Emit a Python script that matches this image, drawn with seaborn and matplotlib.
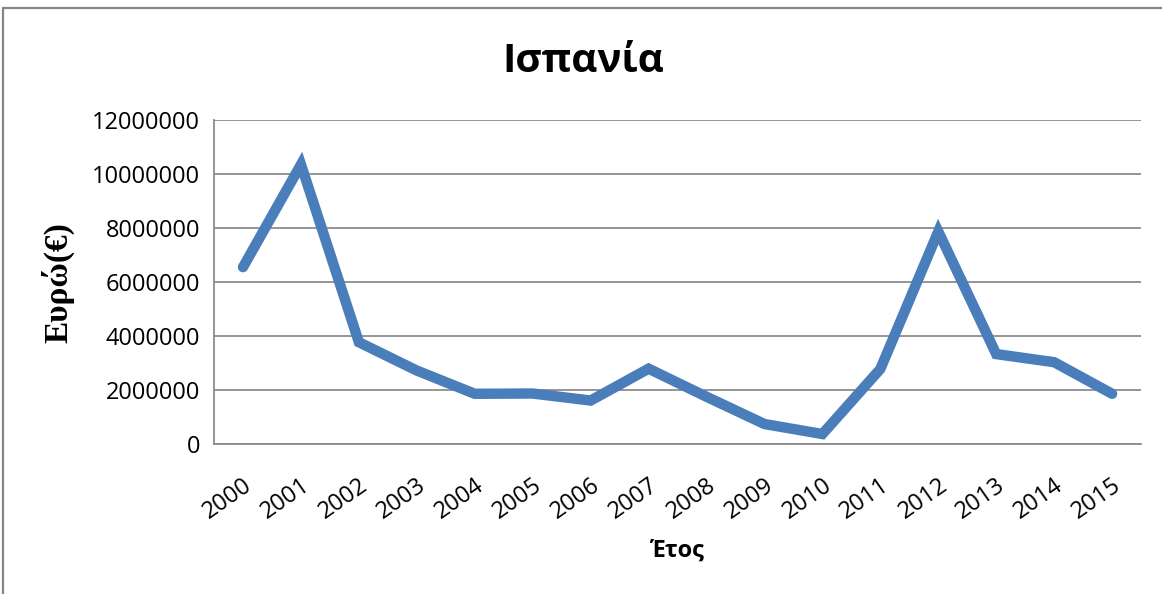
import numpy as np
import pandas as pd
import seaborn as sns
import matplotlib.pyplot as plt
from matplotlib.lines import Line2D

# data
years = ["2000", "2001", "2002", "2003", "2004", "2005", "2006", "2007",
         "2008", "2009", "2010", "2011", "2012", "2013", "2014", "2015"]
euros = [6550000, 10350000, 3770000, 2720000, 1860000, 1870000, 1610000, 2790000,
         1750000, 740000, 370000, 2780000, 7870000, 3330000, 3030000, 1860000]
yticks = [0, 2000000, 4000000, 6000000, 8000000, 10000000, 12000000]

df = pd.DataFrame({"pos": np.arange(len(years)), "year": years, "euro": euros})

sns.set_style("white")
plt.rcParams["font.family"] = ["Open Sans", "DejaVu Sans"]
plt.rcParams["text.color"] = "black"
plt.rcParams["xtick.color"] = "black"
plt.rcParams["ytick.color"] = "black"

fig = plt.figure(figsize=(11.62, 5.94), dpi=100)
ax = fig.add_axes([0.1842, 0.2525, 0.7978, 0.5455])

sns.lineplot(data=df, x="pos", y="euro", ax=ax, color="#4A7EBB",
             linewidth=7.5, solid_capstyle="round", solid_joinstyle="miter")

ax.set_xlim(-0.5, len(years) - 0.5)
ax.set_ylim(0, 12000000)
ax.set_yticks(yticks)
ax.set_yticklabels([str(v) for v in yticks], fontsize=17)
ax.yaxis.grid(True, color="#8c8c8c", linewidth=1.3)

# tick marks between categories, labels at centres
ax.set_xticks(np.arange(len(years) + 1) - 0.5)
ax.set_xticklabels([])
ax.set_xticks(df["pos"], minor=True)
ax.set_xticklabels(years, minor=True, fontsize=17, rotation=35,
                   ha="right", va="top", rotation_mode="anchor")
ax.tick_params(axis="x", which="minor", length=0, pad=21)
ax.tick_params(axis="x", which="major", length=7, width=1.3, color="#8c8c8c", direction="out")
ax.tick_params(axis="y", length=7, width=1.3, color="#8c8c8c", direction="out", pad=3)

for s in ["top", "right"]:
    ax.spines[s].set_visible(False)
for s in ["left", "bottom"]:
    ax.spines[s].set_color("#8c8c8c")
    ax.spines[s].set_linewidth(1.3)

ax.set_xlabel("")
ax.set_ylabel("")
fig.text(0.5017, 0.897, "Ισπανία", ha="center", va="center", fontsize=29, fontweight="bold")
fig.text(0.583, 0.073, "Έτος", ha="center", va="center", fontsize=17, fontweight="bold")
fig.text(0.05, 0.525, "Ευρώ(€)", ha="center", va="center", rotation=90, fontsize=24,
         fontweight="bold", family=["Liberation Serif", "DejaVu Serif"])

# chart-area frame, only the top and left edges show in the picture
fig.lines.append(Line2D([0.0026, 1.0], [0.9857, 0.9857], transform=fig.transFigure,
                        color="#868686", linewidth=1.6))
fig.lines.append(Line2D([0.0026, 0.0026], [0.0, 0.9857], transform=fig.transFigure,
                        color="#868686", linewidth=1.6))

fig.savefig("out.png", dpi=100)
